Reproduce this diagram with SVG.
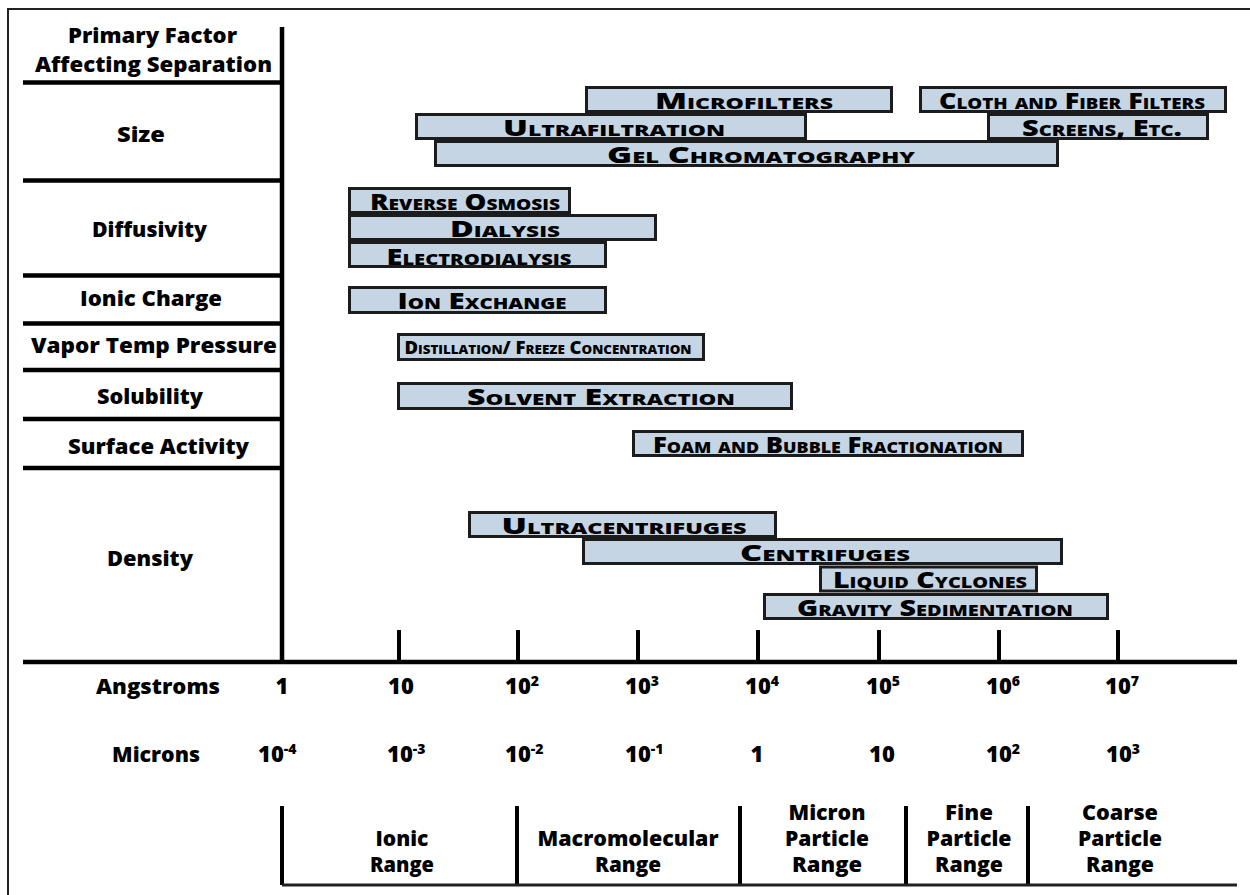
<svg xmlns="http://www.w3.org/2000/svg" width="1250" height="895" viewBox="0 0 1250 895">
<style>
text{font-family:"Open Sans","Liberation Sans",sans-serif;font-weight:800;fill:#000}
.l{font-size:21px;text-anchor:middle}
.n{font-size:22px}
.m{font-size:22px;text-anchor:middle}
.s{font-size:14px}
.bar{fill:#c6d5e3;stroke:#1c1c1c;stroke-width:3}
.bt{font-size:23px;font-variant:small-caps;text-anchor:middle}
.bts{font-size:18px;font-variant:small-caps;text-anchor:middle}
.ln{stroke:#000;stroke-width:4.5;fill:none}
.tk{stroke:#000;stroke-width:4;fill:none}
.fr{stroke:#222;stroke-width:2;fill:none}
</style>
<rect width="1250" height="895" fill="#fff"/>
<g id="connectors">
<path class="fr" d="M8,895 V9 H1250"/>
<path class="ln" d="M282,27 V662 M23,662 H1237 M23,82.5 H282 M23,180.5 H282 M23,275.5 H282 M23,323.5 H282 M23,370 H282 M23,419 H282 M23,468 H282"/>
<path class="tk" d="M399,630 V662 M518,630 V662 M638,630 V662 M758,630 V662 M879,630 V662 M999,630 V662 M1118,630 V662"/>
<path class="tk" d="M282,806 V885 M517,806 V885 M740,806 V885 M906,806 V885 M1028,806 V885"/>
<path d="M282,885 H1237" stroke="#222" stroke-width="3" fill="none"/>
</g>
<g id="factors">
<text class="l" x="152.5" y="43" textLength="169" lengthAdjust="spacingAndGlyphs">Primary Factor</text>
<text class="l" x="153.5" y="72" textLength="237" lengthAdjust="spacingAndGlyphs">Affecting Separation</text>
<text class="l" x="141" y="142" textLength="48" lengthAdjust="spacingAndGlyphs">Size</text>
<text class="l" x="149.5" y="237" textLength="115" lengthAdjust="spacingAndGlyphs">Diffusivity</text>
<text class="l" x="151" y="306" textLength="142" lengthAdjust="spacingAndGlyphs">Ionic Charge</text>
<text class="l" x="154" y="353" textLength="246" lengthAdjust="spacingAndGlyphs">Vapor Temp Pressure</text>
<text class="l" x="150" y="404" textLength="106" lengthAdjust="spacingAndGlyphs">Solubility</text>
<text class="l" x="158.5" y="454" textLength="181" lengthAdjust="spacingAndGlyphs">Surface Activity</text>
<text class="l" x="150" y="566" textLength="86" lengthAdjust="spacingAndGlyphs">Density</text>
</g>
<g id="microfilters"><rect class="bar" x="586.5" y="87.5" width="305" height="24"/><text class="bt" x="744" y="108.5" textLength="178" lengthAdjust="spacingAndGlyphs">Microfilters</text></g>
<g id="cloth"><rect class="bar" x="920.5" y="87.5" width="305" height="24"/><text class="bt" x="1072" y="108.5" textLength="266" lengthAdjust="spacingAndGlyphs">Cloth and Fiber Filters</text></g>
<g id="ultrafiltration"><rect class="bar" x="416.5" y="114.5" width="389" height="24"/><text class="bt" x="614" y="135.5" textLength="222" lengthAdjust="spacingAndGlyphs">Ultrafiltration</text></g>
<g id="screens"><rect class="bar" x="988.5" y="114.5" width="219" height="24"/><text class="bt" x="1102" y="135.5" textLength="160" lengthAdjust="spacingAndGlyphs">Screens, Etc.</text></g>
<g id="gel"><rect class="bar" x="435.5" y="141.5" width="622" height="24"/><text class="bt" x="761" y="162.5" textLength="308" lengthAdjust="spacingAndGlyphs">Gel Chromatography</text></g>
<g id="reverse-osmosis"><rect class="bar" x="349.5" y="188.5" width="220" height="24"/><text class="bt" x="465" y="210" textLength="190" lengthAdjust="spacingAndGlyphs">Reverse Osmosis</text></g>
<g id="dialysis"><rect class="bar" x="349.5" y="215.5" width="306" height="24"/><text class="bt" x="505" y="237" textLength="110" lengthAdjust="spacingAndGlyphs">Dialysis</text></g>
<g id="electrodialysis"><rect class="bar" x="349.5" y="242.5" width="256" height="24"/><text class="bt" x="479" y="265" textLength="185" lengthAdjust="spacingAndGlyphs">Electrodialysis</text></g>
<g id="ion-exchange"><rect class="bar" x="349.5" y="287.5" width="256" height="25"/><text class="bt" x="482" y="308.5" textLength="169" lengthAdjust="spacingAndGlyphs">Ion Exchange</text></g>
<g id="distillation"><rect class="bar" x="398.5" y="334.5" width="305" height="25"/><text class="bts" x="548" y="353.5" textLength="287" lengthAdjust="spacingAndGlyphs">Distillation/ Freeze Concentration</text></g>
<g id="solvent"><rect class="bar" x="398.5" y="383.5" width="393" height="25"/><text class="bt" x="601" y="405" textLength="268" lengthAdjust="spacingAndGlyphs">Solvent Extraction</text></g>
<g id="foam"><rect class="bar" x="633.5" y="431.5" width="389" height="24"/><text class="bt" x="828" y="452.5" textLength="350" lengthAdjust="spacingAndGlyphs">Foam and Bubble Fractionation</text></g>
<g id="ultracentrifuges"><rect class="bar" x="469.5" y="512.5" width="306" height="24"/><text class="bt" x="624" y="533.5" textLength="245" lengthAdjust="spacingAndGlyphs">Ultracentrifuges</text></g>
<g id="centrifuges"><rect class="bar" x="583.5" y="539.5" width="478" height="24"/><text class="bt" x="825" y="560.5" textLength="170" lengthAdjust="spacingAndGlyphs">Centrifuges</text></g>
<g id="gravity"><rect class="bar" x="764.5" y="594.5" width="343" height="24"/><text class="bt" x="935" y="615.5" textLength="276" lengthAdjust="spacingAndGlyphs">Gravity Sedimentation</text></g>
<g id="liquid"><rect class="bar" x="820.5" y="567" width="216" height="24"/><text class="bt" x="930" y="588" textLength="194" lengthAdjust="spacingAndGlyphs">Liquid Cyclones</text></g>
<g id="angstroms">
<text class="l" x="158" y="694" textLength="124" lengthAdjust="spacingAndGlyphs">Angstroms</text>
<text class="m" x="282" y="694">1</text>
<text class="m" x="401" y="694">10</text>
<text class="n" x="505" y="694">10<tspan class="s" dy="-8">2</tspan></text>
<text class="n" x="625" y="694">10<tspan class="s" dy="-8">3</tspan></text>
<text class="n" x="745" y="694">10<tspan class="s" dy="-8">4</tspan></text>
<text class="n" x="866" y="694">10<tspan class="s" dy="-8">5</tspan></text>
<text class="n" x="986" y="694">10<tspan class="s" dy="-8">6</tspan></text>
<text class="n" x="1105" y="694">10<tspan class="s" dy="-8">7</tspan></text>
</g>
<g id="microns">
<text class="l" x="156" y="762" textLength="88" lengthAdjust="spacingAndGlyphs">Microns</text>
<text class="n" x="258" y="762">10<tspan class="s" dy="-8">-4</tspan></text>
<text class="n" x="387" y="762">10<tspan class="s" dy="-8">-3</tspan></text>
<text class="n" x="505" y="762">10<tspan class="s" dy="-8">-2</tspan></text>
<text class="n" x="625" y="762">10<tspan class="s" dy="-8">-1</tspan></text>
<text class="m" x="757" y="762">1</text>
<text class="m" x="882" y="762">10</text>
<text class="n" x="986" y="762">10<tspan class="s" dy="-8">2</tspan></text>
<text class="n" x="1106" y="762">10<tspan class="s" dy="-8">3</tspan></text>
</g>
<g id="ranges">
<text class="l" x="402" y="846">Ionic</text>
<text class="l" x="402" y="872" textLength="64" lengthAdjust="spacingAndGlyphs">Range</text>
<text class="l" x="628" y="846" textLength="181" lengthAdjust="spacingAndGlyphs">Macromolecular</text>
<text class="l" x="628" y="872" textLength="66" lengthAdjust="spacingAndGlyphs">Range</text>
<text class="l" x="827" y="820" textLength="77" lengthAdjust="spacingAndGlyphs">Micron</text>
<text class="l" x="827" y="846" textLength="84" lengthAdjust="spacingAndGlyphs">Particle</text>
<text class="l" x="827" y="872" textLength="70" lengthAdjust="spacingAndGlyphs">Range</text>
<text class="l" x="969" y="820" textLength="48" lengthAdjust="spacingAndGlyphs">Fine</text>
<text class="l" x="969" y="846" textLength="85" lengthAdjust="spacingAndGlyphs">Particle</text>
<text class="l" x="969" y="872" textLength="68" lengthAdjust="spacingAndGlyphs">Range</text>
<text class="l" x="1120" y="820" textLength="76" lengthAdjust="spacingAndGlyphs">Coarse</text>
<text class="l" x="1120" y="846" textLength="84" lengthAdjust="spacingAndGlyphs">Particle</text>
<text class="l" x="1120" y="872" textLength="68" lengthAdjust="spacingAndGlyphs">Range</text>
</g>
</svg>
